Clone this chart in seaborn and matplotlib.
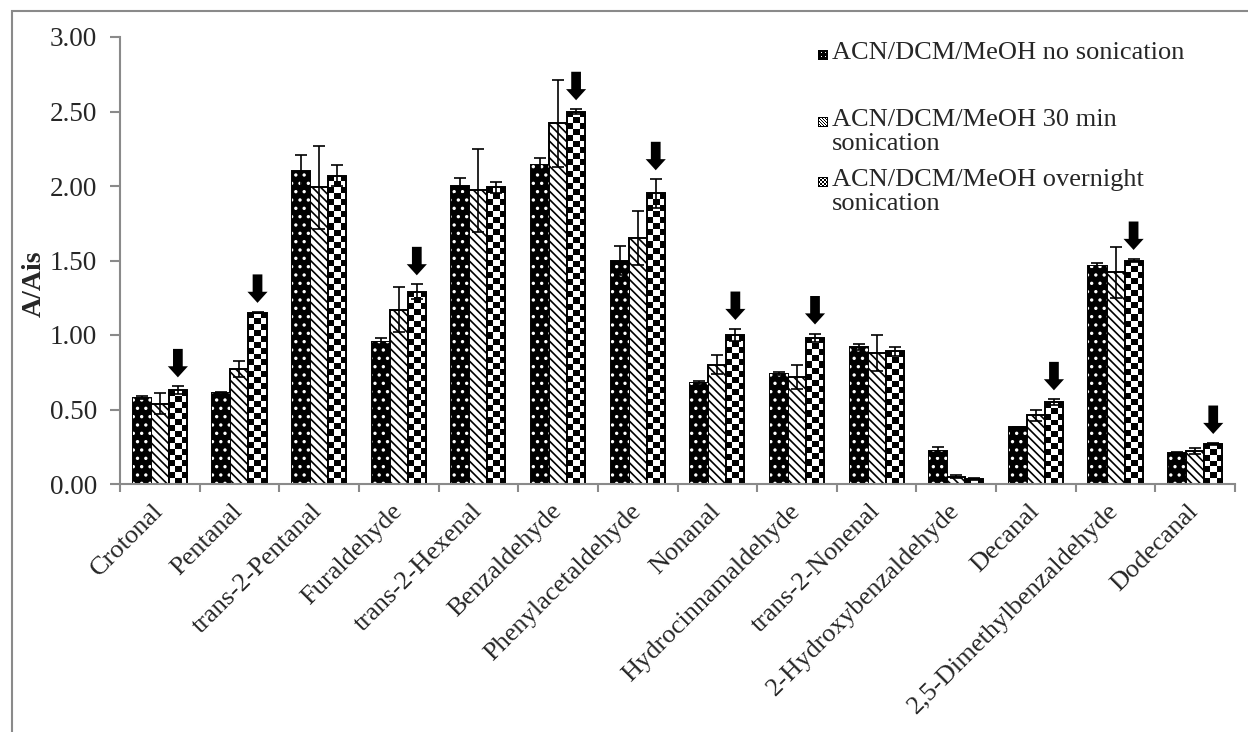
import numpy as np
import pandas as pd
import matplotlib
matplotlib.use('Agg')
import matplotlib.pyplot as plt
from matplotlib.patches import Rectangle
from matplotlib.ticker import FixedLocator, FormatStrFormatter
import seaborn as sns

# values (A/Ais)
compounds = ['Crotonal', 'Pentanal', 'trans-2-Pentanal', 'Furaldehyde',
             'trans-2-Hexenal', 'Benzaldehyde', 'Phenylacetaldehyde', 'Nonanal',
             'Hydrocinnamaldehyde', 'trans-2-Nonenal', '2-Hydroxybenzaldehyde',
             'Decanal', '2,5-Dimethylbenzaldehyde', 'Dodecanal']
methods = ['ACN/DCM/MeOH no sonication',
           'ACN/DCM/MeOH 30 min sonication',
           'ACN/DCM/MeOH overnight sonication']
legend_labels = ['ACN/DCM/MeOH no sonication',
                 'ACN/DCM/MeOH 30 min\nsonication',
                 'ACN/DCM/MeOH overnight\nsonication']

no_son = [0.58, 0.61, 2.10, 0.95, 2.00, 2.14, 1.50, 0.68, 0.74, 0.92, 0.22, 0.38, 1.46, 0.21]
no_son_err = [0.01, 0.01, 0.11, 0.03, 0.055, 0.045, 0.10, 0.01, 0.01, 0.02, 0.03, 0.005, 0.02, 0.005]
son30 = [0.54, 0.77, 1.99, 1.17, 1.97, 2.42, 1.65, 0.80, 0.72, 0.88, 0.05, 0.46, 1.42, 0.22]
son30_err = [0.07, 0.055, 0.28, 0.15, 0.28, 0.29, 0.18, 0.065, 0.08, 0.12, 0.01, 0.035, 0.17, 0.02]
overnight = [0.63, 1.15, 2.07, 1.29, 1.99, 2.50, 1.95, 1.00, 0.98, 0.89, 0.035, 0.55, 1.50, 0.27]
overnight_err = [0.025, 0.005, 0.07, 0.05, 0.04, 0.015, 0.095, 0.04, 0.03, 0.03, 0.005, 0.018, 0.01, 0.005]
# arrows mark compounds where overnight sonication gave the highest response
arrow_flag = [1, 1, 0, 1, 0, 1, 1, 1, 1, 0, 0, 1, 1, 1]

yticks = [0.0, 0.5, 1.0, 1.5, 2.0, 2.5, 3.0]

series = [no_son, son30, overnight]
errors = [no_son_err, son30_err, overnight_err]

df = pd.DataFrame({
    'compound': compounds * 3,
    'method': [m for m in methods for _ in compounds],
    'value': no_son + son30 + overnight,
})

sns.set_style('white')
plt.rcParams['font.family'] = ['Liberation Serif', 'DejaVu Serif']
plt.rcParams['hatch.linewidth'] = 1.2

W, H = 1248, 732
fig = plt.figure(figsize=(W / 100, H / 100), dpi=100)
fig.subplots_adjust(left=120 / W, right=1235 / W, bottom=1 - 484 / H, top=1 - 37 / H)
ax = fig.add_subplot(111)

sns.barplot(data=df, x='compound', y='value', hue='method', hue_order=methods,
            order=compounds, palette=['black', 'white', 'white'], saturation=1,
            edgecolor='black', linewidth=1.4, width=0.68, gap=0,
            errorbar=None, legend=False, ax=ax)

ax.set_xlim(-0.5, len(compounds) - 0.5)
ax.set_ylim(0, 3)

gray = '#8a8a8a'

# no sonication: black with white dots
for p in ax.containers[0]:
    ax.add_patch(Rectangle((p.get_x(), 0), p.get_width(), p.get_height(),
                           facecolor='none', edgecolor='white', lw=0,
                           hatch='..', zorder=2.5))

# 30 min: diagonal stripes
for p in ax.containers[1]:
    p.set_hatch('\\\\\\\\')

# overnight: checkerboard clipped to each bar
cell = 6.0
for p in ax.containers[2]:
    x0, h = p.get_x(), p.get_height()
    x1 = x0 + p.get_width()
    (px0, py0), (px1, py1) = ax.transData.transform([(x0, 0), (x1, h)])
    ncols = max(1, int(round((px1 - px0) / cell)))
    nrows = max(1, int(round((py1 - py0) / cell)))
    board = (np.add.outer(np.arange(nrows), np.arange(ncols)) % 2).astype(float)
    im = ax.imshow(board, extent=(x0, x1, 0, h), cmap='gray', vmin=0, vmax=1,
                   interpolation='nearest', aspect='auto', origin='upper', zorder=1.5)
    im.set_clip_path(p)
    p.set_facecolor('none')
    p.set_zorder(2)

# error bars and arrows
for cont, vals, errs in zip(ax.containers, series, errors):
    xs = [p.get_x() + p.get_width() / 2 for p in cont]
    ax.errorbar(xs, vals, yerr=errs, fmt='none', ecolor='black',
                elinewidth=1.2, capsize=4, capthick=1.2, zorder=4)

for p, v, e, flag in zip(ax.containers[2], overnight, overnight_err, arrow_flag):
    if not flag:
        continue
    xc = p.get_x() + p.get_width() / 2
    ax.annotate('', xy=(xc, v + e), xytext=(0, 27), textcoords='offset points',
                arrowprops=dict(arrowstyle='simple,head_length=0.8,head_width=1.45,tail_width=0.7',
                                mutation_scale=10, color='black', lw=0,
                                shrinkA=0, shrinkB=6.5),
                zorder=5)

ax.set_xlim(-0.5, len(compounds) - 0.5)
ax.set_ylim(0, 3)

# axes styling
for side in ['top', 'right']:
    ax.spines[side].set_visible(False)
for side in ['left', 'bottom']:
    ax.spines[side].set_color(gray)
    ax.spines[side].set_linewidth(1.5)

ax.set_yticks(yticks)
ax.yaxis.set_major_formatter(FormatStrFormatter('%.2f'))
ax.tick_params(axis='y', which='major', direction='out', length=7, width=1.5,
               color=gray, labelsize=19.5, pad=9.5, left=True)

ax.set_xticks(range(len(compounds)))
ax.set_xticklabels(compounds, rotation=45, ha='right', va='center',
                   rotation_mode='anchor')
ax.xaxis.set_minor_locator(FixedLocator(np.arange(-0.5, len(compounds), 1.0)))
ax.tick_params(axis='x', which='major', length=0, labelsize=19, pad=17)
ax.tick_params(axis='x', which='minor', direction='out', length=6, width=1.5,
               color=gray, bottom=True)

ax.set_xlabel('')
ax.set_ylabel('A/Ais', fontsize=20, fontweight='bold')
ax.yaxis.set_label_coords(-0.066, 0.447)

# legend drawn by hand to copy the spaced-out layout
text_x = 832 / W
first_line = [56, 123, 183]
marker_cy = [55, 122, 182]
m = 10
mark_imgs = []
dot = np.zeros((m, m))
dot[2, 3] = dot[6, 3] = dot[2, 7] = dot[6, 7] = 1
mark_imgs.append(dot)
stripe = np.ones((m, m))
for i in range(m):
    for j in range(m):
        if (j - i) % 3 == 0:
            stripe[i, j] = 0
stripe[0, :] = stripe[-1, :] = stripe[:, 0] = stripe[:, -1] = 0
mark_imgs.append(stripe)
chk = (np.add.outer(np.arange(m) // 2, np.arange(m) // 2) % 2).astype(float)
chk[0, :] = chk[-1, :] = chk[:, 0] = chk[:, -1] = 0
mark_imgs.append(chk)

for lab, ty, cy, img in zip(legend_labels, first_line, marker_cy, mark_imgs):
    fig.text(text_x, 1 - (ty - 14) / H, lab, fontsize=19, va='top', ha='left',
             linespacing=1.1)
    fig.figimage(img, xo=818, yo=H - cy - m // 2, cmap='gray', vmin=0, vmax=1,
                 origin='upper', zorder=5)

# outer chart frame
fig.add_artist(Rectangle((12 / W, -0.1), 1.5, 1 - 11 / H + 0.1,
                         transform=fig.transFigure, fill=False,
                         edgecolor=gray, lw=1.5))

fig.savefig('out.png', dpi=100)
